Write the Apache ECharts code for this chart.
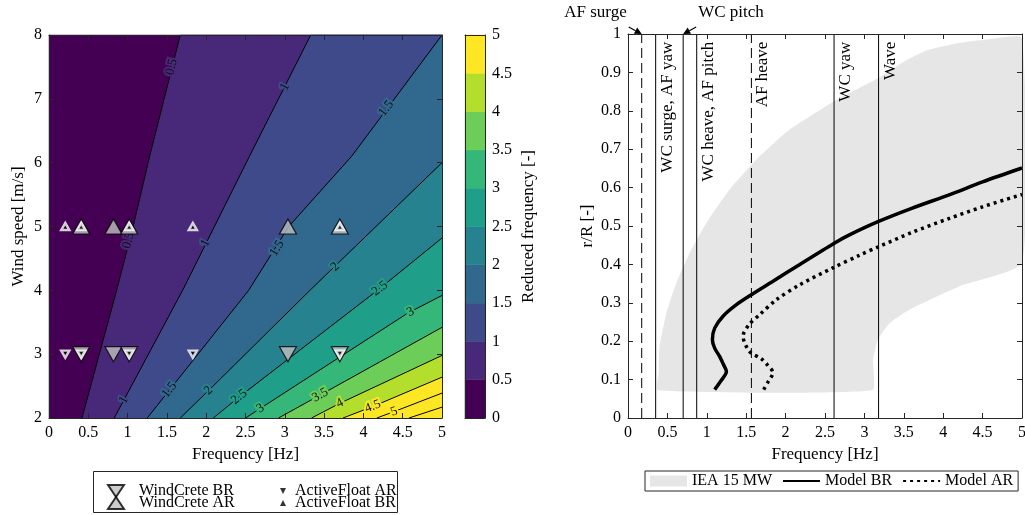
<!DOCTYPE html>
<html>
<head>
<meta charset="utf-8">
<title>Reduced frequency</title>
<style>html,body{margin:0;padding:0;background:#fff}</style>
</head>
<body>
<div id="box" style="width:1025px;height:515px"></div>
<script src="https://cdn.jsdelivr.net/npm/echarts@6/dist/echarts.min.js"></script>
<script>
// ---- left panel: contour levels and their lines as [frequency Hz, wind speed m/s]
var levels = [0.5, 1, 1.5, 2, 2.5, 3, 3.5, 4, 4.5, 5, 5.5];
var contourLines = [
  [[0.42, 2], [0.86, 4], [1.07, 5], [1.28, 6.1], [1.67, 8]],
  [[0.83, 2], [1.70, 4], [2.55, 6.1], [3.33, 8]],
  [[1.25, 2], [2.54, 4], [3.05, 5], [3.85, 6.1], [5, 8]],
  [[1.67, 2], [2.03, 2.43], [3.32, 4], [5, 6.0]],
  [[2.09, 2], [2.42, 2.33], [4.21, 4.03], [5, 4.82]],
  [[2.5, 2], [4.56, 3.64], [5, 3.92]],
  [[2.92, 2], [3.45, 2.36], [5, 3.42]],
  [[3.34, 2], [3.70, 2.23], [5, 2.98]],
  [[3.74, 2], [4.12, 2.18], [5, 2.64]],
  [[4.17, 2], [4.39, 2.10], [5, 2.39]],
  [[4.58, 2], [5, 2.17]]
];
// inline labels: [f, V, index into levels]
var contourLabels = [
  [1.56, 7.5, 0], [1.01, 4.78, 0],
  [3.0, 7.19, 1], [1.99, 4.74, 1], [0.95, 2.28, 1],
  [4.29, 6.85, 2], [2.90, 4.66, 2], [1.53, 2.44, 2],
  [3.64, 4.37, 3], [2.03, 2.43, 3],
  [4.21, 4.03, 4], [2.42, 2.33, 4],
  [4.60, 3.66, 5], [2.69, 2.15, 5],
  [3.45, 2.36, 6], [3.70, 2.23, 7], [4.12, 2.18, 8], [4.39, 2.10, 9]
];
var bandColors = ['#440154', '#482878', '#3e4a89', '#31688e', '#26828e',
                  '#1f9e89', '#35b779', '#6dcd59', '#b4de2c', '#fde725'];

// natural frequencies of the two floaters, at 3 and 5 m/s
var windCreteBR = [[0.41, 3], [0.82, 3], [1.02, 3], [3.04, 3], [3.70, 3]];
var windCreteAR = [[0.41, 5], [0.82, 5], [1.02, 5], [3.04, 5], [3.70, 5]];
var activeFloatAR = [[0.207, 3], [0.41, 3], [1.02, 3], [1.83, 3], [3.70, 3]];
var activeFloatBR = [[0.207, 5], [0.41, 5], [1.02, 5], [1.83, 5], [3.70, 5]];

// ---- right panel: [frequency Hz, r/R]
var naturalFreq = [0.174, 0.351, 0.70, 0.872, 1.566, 2.615, 3.18];
var naturalDashed = [true, false, false, false, true, false, false];
var lineLabels = [[0.351, 'WC surge, AF yaw'], [0.872, 'WC heave, AF pitch'],
                  [1.566, 'AF heave'], [2.615, 'WC yaw'], [3.18, 'Wave']];
var arrowNotes = [[0.174, 'AF surge', -1], [0.70, 'WC pitch', 1]];

var ieaEnvelope = [
  [0.38, 0.072], [0.39, 0.12], [0.40, 0.186], [0.487, 0.273], [0.614, 0.352],
  [0.783, 0.43], [0.995, 0.508], [1.29, 0.595], [1.63, 0.673], [2.05, 0.751],
  [2.56, 0.818], [2.9, 0.856], [3.19, 0.887], [3.5, 0.928], [3.79, 0.957],
  [4.21, 0.977], [4.6, 0.987], [5, 0.99],
  [5, 0.404], [4.21, 0.343], [3.57, 0.282], [3.32, 0.247], [3.17, 0.204],
  [3.11, 0.152], [3.10, 0.072]
];
var modelBR = [
  [1.10, 0.074], [1.18, 0.097], [1.249, 0.121], [1.21, 0.14], [1.164, 0.160],
  [1.10, 0.182], [1.071, 0.204], [1.10, 0.234], [1.206, 0.265], [1.376, 0.295],
  [1.566, 0.321], [1.84, 0.356], [2.18, 0.40], [2.623, 0.456], [2.81, 0.477],
  [3.18, 0.512], [3.6, 0.546], [4.1, 0.583], [4.5, 0.615], [5, 0.651]
];
var modelAR = [
  [1.722, 0.074], [1.78, 0.095], [1.84, 0.118], [1.77, 0.138], [1.693, 0.154],
  [1.544, 0.173], [1.46, 0.213], [1.536, 0.243], [1.671, 0.269], [1.883, 0.308],
  [2.18, 0.347], [2.60, 0.391], [2.94, 0.424], [3.18, 0.446], [3.6, 0.483],
  [4.08, 0.52], [4.5, 0.55], [5, 0.582]
];

var serif = '"Liberation Serif", "Times New Roman", serif';
var ink = '#262626';
var triUp = 'path://M1,0L2,2L0,2Z';
var triDown = 'path://M0,0L2,0L1,2Z';

var chart = echarts.init(document.getElementById('box'));

function axis(gridIndex, position, min, max, step, labels, extra) {
  var a = {
    type: 'value', gridIndex: gridIndex, position: position,
    min: min, max: max, interval: step, z: 10,
    axisLine: {show: true, onZero: false, lineStyle: {color: ink, width: 1}},
    axisTick: {show: true, inside: true, length: 5, lineStyle: {color: ink}},
    axisLabel: {show: labels, margin: 7, color: '#000', fontFamily: serif, fontSize: 16},
    splitLine: {show: false}
  };
  for (var k in extra) a[k] = extra[k];
  return a;
}
function axisName(text, gap, rotate) {
  return {
    name: text, nameLocation: 'middle', nameGap: gap, nameRotate: rotate,
    nameTextStyle: {color: '#000', fontFamily: serif, fontSize: 17}
  };
}

// polygon right of / below one contour line, closed along the plot border
function bandPolygon(k) {
  if (k === 0) return [[0, 2], [5, 2], [5, 8], [0, 8]];
  var pts = contourLines[k - 1].slice();
  if (pts[pts.length - 1][1] >= 8) pts.push([5, 8]);
  pts.push([5, 2]);
  return pts;
}
function labelAngle(api, line, v) {
  for (var i = 1; i < line.length; i++) {
    if (v <= line[i][1] || i === line.length - 1) {
      var a = api.coord(line[i - 1]), b = api.coord(line[i]);
      return Math.atan2(a[1] - b[1], b[0] - a[0]);
    }
  }
  return 0;
}
function indexData(arr) {
  return arr.map(function (d, i) { return [i]; });
}

var edges = [0].concat(levels);
var legendText = {fontFamily: serif, fontSize: 16, color: '#000', lineHeight: 12};

var option = {
  animation: false,
  backgroundColor: '#fff',
  textStyle: {fontFamily: serif},
  grid: [
    {left: 49, top: 35, width: 393, height: 383, outerBoundsMode: 'none'},
    {left: 465, top: 35, width: 20, height: 383, outerBoundsMode: 'none'},
    {left: 628, top: 34, width: 394, height: 384, outerBoundsMode: 'none'}
  ],
  xAxis: [
    axis(0, 'bottom', 0, 5, 0.5, true, axisName('Frequency [Hz]', 25, 0)),
    axis(0, 'top', 0, 5, 0.5, false, {}),
    axis(1, 'bottom', 0, 1, 1, false, {axisTick: {show: false}}),
    axis(1, 'top', 0, 1, 1, false, {axisTick: {show: false}}),
    axis(2, 'bottom', 0, 5, 0.5, true, axisName('Frequency [Hz]', 25, 0)),
    axis(2, 'top', 0, 5, 0.5, false, {})
  ],
  yAxis: [
    axis(0, 'left', 2, 8, 1, true, axisName('Wind speed [m/s]', 22, 90)),
    axis(0, 'right', 2, 8, 1, false, {}),
    axis(1, 'right', 0, 5, 0.5, true, Object.assign(axisName('Reduced frequency [-]', 35, 90),
      {axisTick: {show: false}})),
    axis(1, 'left', 0, 5, 0.5, false, {axisTick: {show: false}}),
    axis(2, 'left', 0, 1, 0.1, true, axisName('r/R [-]', 32, 90)),
    axis(2, 'right', 0, 1, 0.1, false, {})
  ],
  legend: [
    {
      data: [{name: 'WindCrete BR', icon: triDown}, {name: 'WindCrete AR', icon: triUp}],
      orient: 'vertical', left: 107, top: 483, symbolKeepAspect: false,
      itemWidth: 16, itemHeight: 12, itemGap: -4, padding: 0, selectedMode: false,
      textStyle: Object.assign({padding: [0, 0, 0, 10]}, legendText)
    },
    {
      data: [{name: 'ActiveFloat AR', icon: triDown}, {name: 'ActiveFloat BR', icon: triUp}],
      orient: 'vertical', left: 280, top: 483,
      itemWidth: 12, itemHeight: 6, itemGap: -4, padding: 0, selectedMode: false,
      itemStyle: {borderWidth: 0},
      textStyle: Object.assign({padding: [0, 0, 0, 1]}, legendText)
    },
    {
      data: [
        {name: 'IEA 15 MW', icon: 'rect'},
        {name: 'Model BR', itemStyle: {opacity: 0}},
        {name: 'Model AR', itemStyle: {opacity: 0}}
      ],
      left: 645, top: 471, padding: [2, 5], itemGap: 10, itemWidth: 37, itemHeight: 11,
      borderColor: ink, borderWidth: 1, selectedMode: false,
      textStyle: {fontFamily: serif, fontSize: 16, color: '#000'}
    }
  ],
  graphic: [{
    type: 'rect', z: 0, silent: true,
    shape: {x: 93.5, y: 471.5, width: 304, height: 41},
    style: {fill: 'none', stroke: ink, lineWidth: 1}
  }],
  series: [
    // filled contour bands
    {
      type: 'custom', name: 'bands', xAxisIndex: 0, yAxisIndex: 0, z: 1, silent: true,
      data: indexData([0].concat(contourLines)),
      renderItem: function (params, api) {
        var k = params.dataIndex;
        var c = bandColors[Math.min(k, bandColors.length - 1)];
        return {
          type: 'polygon', z2: k,
          shape: {points: bandPolygon(k).map(function (p) { return api.coord(p); })},
          style: {fill: c, stroke: c, lineWidth: 0.5}
        };
      }
    },
    // contour lines
    {
      type: 'custom', name: 'contours', xAxisIndex: 0, yAxisIndex: 0, z: 2, silent: true,
      data: indexData(contourLines),
      renderItem: function (params, api) {
        return {
          type: 'polyline',
          shape: {points: contourLines[params.dataIndex].map(function (p) { return api.coord(p); })},
          style: {stroke: '#000', lineWidth: 1, fill: 'none'}
        };
      }
    },
    // contour labels
    {
      type: 'custom', name: 'contourLabels', xAxisIndex: 0, yAxisIndex: 0, z: 3, silent: true,
      data: indexData(contourLabels),
      renderItem: function (params, api) {
        var l = contourLabels[params.dataIndex];
        var p = api.coord([l[0], l[1]]);
        var c = bandColors[Math.min(l[2] + 1, bandColors.length - 1)];
        return {
          type: 'text', x: p[0], y: p[1],
          rotation: labelAngle(api, contourLines[l[2]], l[1]),
          style: {
            text: String(levels[l[2]]), align: 'center', verticalAlign: 'middle',
            font: '13px ' + serif, fill: '#111', stroke: c, lineWidth: 4, strokeFirst: true
          }
        };
      }
    },
    {
      type: 'scatter', name: 'WindCrete BR', xAxisIndex: 0, yAxisIndex: 0, z: 4,
      data: windCreteBR, symbol: triDown, symbolSize: [17, 15],
      itemStyle: {color: '#bfbfbf', borderColor: '#000', borderWidth: 1.2}
    },
    {
      type: 'scatter', name: 'WindCrete AR', xAxisIndex: 0, yAxisIndex: 0, z: 4,
      data: windCreteAR, symbol: triUp, symbolSize: [17, 15],
      itemStyle: {color: '#bfbfbf', borderColor: '#000', borderWidth: 1.2}
    },
    {
      type: 'scatter', name: 'ActiveFloat AR', xAxisIndex: 0, yAxisIndex: 0, z: 5,
      data: activeFloatAR, symbol: triDown, symbolSize: [8, 7],
      itemStyle: {color: '#000', borderColor: '#fff', borderWidth: 2.5}
    },
    {
      type: 'scatter', name: 'ActiveFloat BR', xAxisIndex: 0, yAxisIndex: 0, z: 5,
      data: activeFloatBR, symbol: triUp, symbolSize: [8, 7],
      itemStyle: {color: '#000', borderColor: '#fff', borderWidth: 2.5}
    },
    // colorbar
    {
      type: 'custom', name: 'colorbar', xAxisIndex: 2, yAxisIndex: 2, z: 1, silent: true,
      data: indexData(bandColors),
      renderItem: function (params, api) {
        var i = params.dataIndex;
        var a = api.coord([0, Math.min(edges[i + 1], 5)]);
        var b = api.coord([1, edges[i]]);
        return {
          type: 'rect',
          shape: {x: a[0], y: a[1], width: b[0] - a[0], height: b[1] - a[1]},
          style: {fill: bandColors[i], stroke: bandColors[i], lineWidth: 0.5}
        };
      }
    },
    // IEA 15 MW envelope
    {
      type: 'custom', name: 'IEA 15 MW', xAxisIndex: 4, yAxisIndex: 4, z: 1, silent: true,
      itemStyle: {color: '#e6e6e6'},
      data: [[0]],
      renderItem: function (params, api) {
        return {
          type: 'polygon', shape: {smooth: 0.15,
            points: ieaEnvelope.map(function (p) { return api.coord(p); })},
          style: {fill: '#e6e6e6'}
        };
      }
    },
    // natural frequency lines
    {
      type: 'custom', name: 'natural', xAxisIndex: 4, yAxisIndex: 4, z: 2, silent: true,
      data: indexData(naturalFreq),
      renderItem: function (params, api) {
        var f = naturalFreq[params.dataIndex];
        var a = api.coord([f, 0]), b = api.coord([f, 1]);
        return {
          type: 'line',
          shape: {x1: a[0], y1: a[1], x2: b[0], y2: b[1]},
          style: {stroke: '#000', lineWidth: 1,
                  lineDash: naturalDashed[params.dataIndex] ? [10, 5] : null}
        };
      }
    },
    // labels of the natural frequency lines
    {
      type: 'custom', name: 'lineLabels', xAxisIndex: 4, yAxisIndex: 4, z: 3, silent: true,
      data: indexData(lineLabels),
      renderItem: function (params, api) {
        var l = lineLabels[params.dataIndex];
        var p = api.coord([l[0], 0.98]);
        return {
          type: 'text', x: p[0] + 3, y: p[1], rotation: Math.PI / 2,
          style: {text: l[1], align: 'right', verticalAlign: 'top',
                  font: '17px ' + serif, fill: '#000'}
        };
      }
    },
    {
      type: 'line', name: 'Model BR', xAxisIndex: 4, yAxisIndex: 4, z: 4,
      data: modelBR, symbol: 'none', smooth: 0.3,
      lineStyle: {color: '#000', width: 3.5}, itemStyle: {color: '#000'}
    },
    {
      type: 'line', name: 'Model AR', xAxisIndex: 4, yAxisIndex: 4, z: 4,
      data: modelAR, symbol: 'none', smooth: 0.3,
      lineStyle: {color: '#000', width: 3.5, type: [3, 4]}, itemStyle: {color: '#000'}
    },
    // arrows to the lines above the plot
    {
      type: 'custom', name: 'notes', xAxisIndex: 4, yAxisIndex: 4, z: 5, silent: true,
      data: indexData(arrowNotes),
      renderItem: function (params, api) {
        var n = arrowNotes[params.dataIndex];
        var s = n[2];
        var tip = api.coord([n[0], 1]);
        var tail = [tip[0] + s * 13, tip[1] - 7];
        var dx = tip[0] - tail[0], dy = tip[1] - tail[1];
        var len = Math.sqrt(dx * dx + dy * dy);
        var ux = dx / len, uy = dy / len;
        var bx = tip[0] - ux * 7, by = tip[1] - uy * 7;
        return {
          type: 'group',
          children: [
            {type: 'line', shape: {x1: tail[0], y1: tail[1], x2: bx, y2: by},
             style: {stroke: '#000', lineWidth: 1.2}},
            {type: 'polygon', shape: {points: [tip, [bx - uy * 3.5, by + ux * 3.5], [bx + uy * 3.5, by - ux * 3.5]]},
             style: {fill: '#000'}},
            {type: 'text', x: tip[0] + s * 15, y: tip[1] - 21,
             style: {text: n[1], align: s < 0 ? 'right' : 'left', verticalAlign: 'middle',
                     font: '17px ' + serif, fill: '#000'}}
          ]
        };
      }
    }
  ]
};
chart.setOption(option);
</script>
</body>
</html>
